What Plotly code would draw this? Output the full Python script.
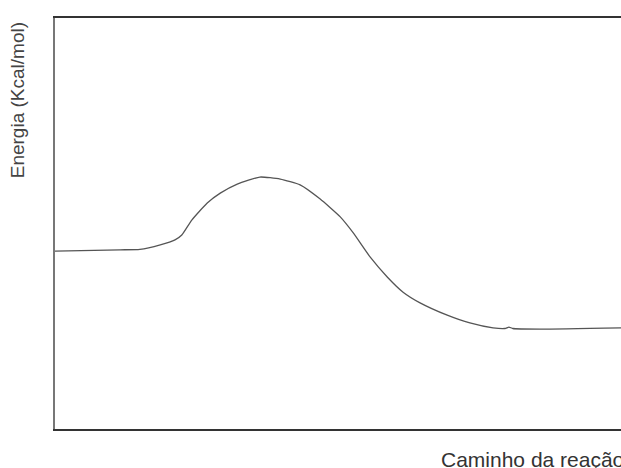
import plotly.graph_objects as go

# Reaction coordinate (arbitrary units) and energy (arbitrary units)
reaction_path = [0, 11.5, 15.0, 18.6, 21.2, 22.4, 24.2, 26.9, 29.2, 32.2, 36.2,
                 39.8, 43.3, 46.8, 50.4, 52.7, 55.7, 58.7, 61.5, 64.5, 69.3,
                 73.3, 77.4, 79.5, 80.2, 80.9, 85.7, 100]
energy = [43.3, 43.6, 43.7, 44.8, 46.0, 47.2, 50.9, 55.0, 57.4, 59.6, 61.3,
          60.8, 59.4, 56.0, 51.6, 47.7, 41.8, 37.0, 33.3, 30.7, 27.7,
          25.8, 24.6, 24.45, 24.8, 24.45, 24.3, 24.6]

y_title = "Energia (Kcal/mol)"
x_title = "Caminho da reação"

fig = go.Figure()
fig.add_trace(go.Scatter(
    x=reaction_path, y=energy, mode="lines",
    line=dict(color="#555555", width=1.3, shape="spline", smoothing=0.5),
    hoverinfo="skip", showlegend=False,
))

fig.update_layout(
    width=621, height=468,
    margin=dict(l=55, r=0, t=18, b=39),
    paper_bgcolor="white", plot_bgcolor="white",
    showlegend=False,
    font=dict(family="Liberation Sans, Arial, sans-serif", color="#3a3a3a"),
    xaxis=dict(range=[0, 100], showgrid=False, zeroline=False, showticklabels=False,
               ticks="", showline=True, linecolor="#333333", linewidth=2, mirror=True),
    yaxis=dict(range=[0, 100], showgrid=False, zeroline=False, showticklabels=False,
               ticks="", showline=True, linecolor="#777777", linewidth=1.5),
    annotations=[
        dict(text=y_title, xref="paper", yref="paper", x=-0.067, y=0.80,
             xanchor="center", yanchor="middle", textangle=-90, showarrow=False,
             font=dict(size=19, color="#444444")),
        dict(text=x_title, xref="paper", yref="paper", x=0.678, y=-0.073,
             xanchor="left", yanchor="middle", showarrow=False,
             font=dict(size=21, color="#333333")),
    ],
)

fig.write_html(
    "out.html",
    config={"displayModeBar": False},
    post_script="document.body.style.margin='0';document.body.style.overflow='hidden';",
)
